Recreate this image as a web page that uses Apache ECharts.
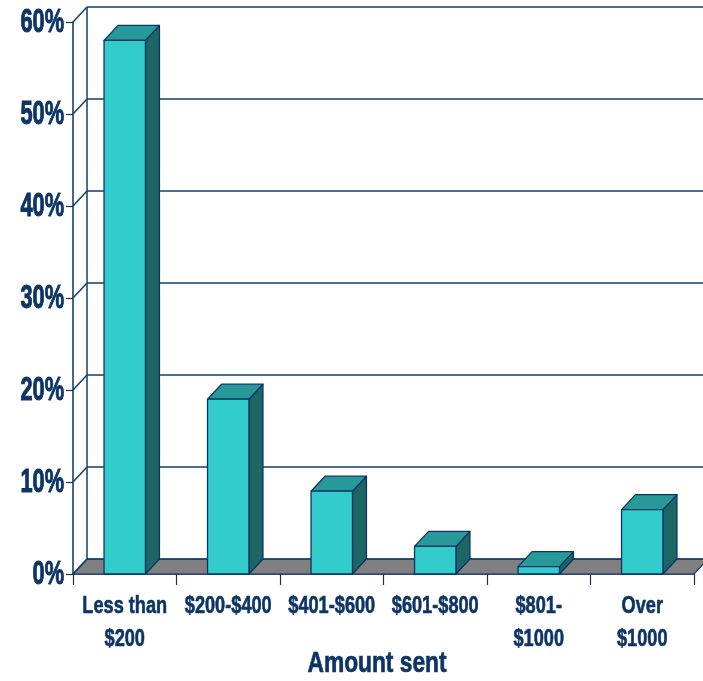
<!DOCTYPE html>
<html>
<head>
<meta charset="utf-8">
<script src="https://cdn.jsdelivr.net/npm/echarts@6.0.0/dist/echarts.min.js"></script>
<style>
  html, body { margin: 0; padding: 0; background: #fff; }
  #chart { width: 703px; height: 681px; }
</style>
</head>
<body>
<div id="chart"></div>
<script>
// ── Data ───────────────────────────────────────────────────────────────
const categories = ["Less than\n$200", "$200-$400", "$401-$600", "$601-$800", "$801-\n$1000", "Over\n$1000"];
const shares = [58, 19, 9, 3, 0.8, 7];
const yTicks = [0, 10, 20, 30, 40, 50, 60];
const xTitle = "Amount sent";

// ── Look ───────────────────────────────────────────────────────────────
const NAVY = "#0d3466";
const GRID_LINE = "#123d6e";
const FONT = '"Liberation Sans", Arial, sans-serif';
// no narrow face installed, so text is squeezed horizontally (and
// given a thin same-colour stroke to keep it heavy)
const Y_SQUEEZE = 0.66, X_SQUEEZE = 0.79, TITLE_SQUEEZE = 0.785;
const DX = 14, DY = -15; // depth offset of the back wall

const chart = echarts.init(document.getElementById("chart"));

// back wall gridlines, diagonal connectors, grey floor and tick labels
function renderWall(params, api) {
  const cs = params.coordSys;
  const v = api.value(0);
  const y = api.coord([0, v])[1];
  const x0 = cs.x, x1 = cs.x + cs.width;
  const lineStyle = { stroke: GRID_LINE, lineWidth: 1.5 };
  const children = [];
  if (v === 0) {
    children.push({
      type: "polygon",
      shape: { points: [[x0, y], [x1, y], [x1 + DX, y + DY], [x0 + DX, y + DY]] },
      style: { fill: "#808080", stroke: NAVY, lineWidth: 1.2 },
    });
    children.push({
      type: "line",
      shape: { x1: x0 + DX, y1: y + DY, x2: x0 + DX, y2: cs.y + DY },
      style: lineStyle,
    });
  }
  children.push({
    type: "line",
    shape: { x1: x0, y1: y, x2: x0 + DX, y2: y + DY },
    style: lineStyle,
  });
  children.push({
    type: "line",
    shape: { x1: x0 + DX, y1: y + DY, x2: x1 + DX + 20, y2: y + DY },
    style: lineStyle,
  });
  children.push({
    type: "text",
    x: x0 - 9,
    y: y + 1,
    scaleX: Y_SQUEEZE,
    style: {
      text: v + "%",
      align: "right",
      verticalAlign: "middle",
      font: `bold 33px ${FONT}`,
      fill: NAVY,
      stroke: NAVY,
      lineWidth: 1,
    },
  });
  return { type: "group", children };
}

// pseudo-3D box for one bar
function renderBar(params, api) {
  const i = api.value(0);
  const base = api.coord([i, 0]);
  const top = api.coord([i, api.value(1)]);
  const bw = api.size([1, 0])[0] * 0.4;
  const xl = top[0] - bw / 2, xr = top[0] + bw / 2;
  const edge = { stroke: NAVY, lineWidth: 1.3, lineJoin: "round" };
  return {
    type: "group",
    children: [
      {
        type: "polygon",
        shape: { points: [[xr, top[1]], [xr + DX, top[1] + DY], [xr + DX, base[1] + DY], [xr, base[1]]] },
        style: { fill: "#1c6666", ...edge },
      },
      {
        type: "polygon",
        shape: { points: [[xl, top[1]], [xr, top[1]], [xr + DX, top[1] + DY], [xl + DX, top[1] + DY]] },
        style: { fill: "#279999", ...edge },
      },
      {
        type: "rect",
        shape: { x: xl, y: top[1], width: bw, height: base[1] - top[1] },
        style: { fill: "#33cccc", ...edge },
      },
    ],
  };
}

// category labels under the floor
function renderCatLabel(params, api) {
  const p = api.coord([api.value(0), 0]);
  return {
    type: "text",
    x: p[0],
    y: p[1] + 16,
    scaleX: X_SQUEEZE,
    style: {
      text: categories[params.dataIndex],
      align: "center",
      verticalAlign: "top",
      font: `bold 23px ${FONT}`,
      lineHeight: 33,
      fill: NAVY,
      stroke: NAVY,
      lineWidth: 0.6,
    },
  };
}

chart.setOption({
  animation: false,
  grid: { left: 73, right: 9, top: 22, bottom: 107, outerBoundsMode: "none", containLabel: false },
  xAxis: {
    type: "category",
    data: categories,
    axisLine: { show: true, lineStyle: { color: NAVY, width: 1.5 } },
    axisTick: { show: true, length: 11, lineStyle: { color: NAVY, width: 1.2 } },
    axisLabel: { show: false },
    splitLine: { show: false },
  },
  yAxis: {
    type: "value",
    min: 0,
    max: 60,
    interval: 10,
    axisLine: { show: true, lineStyle: { color: NAVY, width: 1.5 } },
    axisTick: { show: true, length: 7, lineStyle: { color: NAVY, width: 1.2 } },
    axisLabel: { show: false },
    splitLine: { show: false },
  },
  graphic: [
    {
      type: "text",
      x: 377,
      y: 664,
      scaleX: TITLE_SQUEEZE,
      style: {
        text: xTitle,
        align: "center",
        verticalAlign: "middle",
        font: `bold 29px ${FONT}`,
        fill: NAVY,
        stroke: NAVY,
        lineWidth: 0.7,
      },
    },
  ],
  series: [
    {
      type: "custom",
      z: 1,
      silent: true,
      renderItem: renderWall,
      data: yTicks.map((v) => [v]),
      encode: { y: 0 },
    },
    {
      type: "custom",
      z: 3,
      renderItem: renderBar,
      data: shares.map((v, i) => [i, v]),
      encode: { x: 0, y: 1 },
    },
    {
      type: "custom",
      z: 4,
      silent: true,
      renderItem: renderCatLabel,
      data: categories.map((c, i) => [i]),
      encode: { x: 0 },
    },
  ],
});
</script>
</body>
</html>
